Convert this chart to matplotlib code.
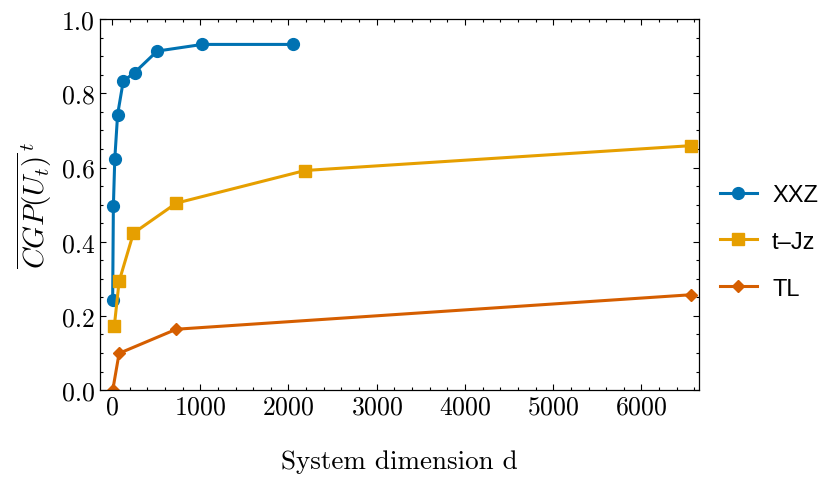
import numpy as np
import matplotlib
matplotlib.use("Agg")
import matplotlib.pyplot as plt

plt.rcParams["font.family"] = "serif"
plt.rcParams["font.serif"] = ["cmr10"]
plt.rcParams["mathtext.fontset"] = "cm"
plt.rcParams["axes.formatter.use_mathtext"] = True
plt.rcParams["font.size"] = 18.5

# data
d_xxz = [8, 16, 32, 64, 128, 256, 512, 1024, 2048]
cgp_xxz = [0.243, 0.495, 0.623, 0.743, 0.833, 0.856, 0.914, 0.932, 0.932]

d_tjz = [27, 81, 243, 729, 2187, 6561]
cgp_tjz = [0.173, 0.293, 0.423, 0.504, 0.592, 0.659]

d_tl = [9, 81, 729, 6561]
cgp_tl = [0.0, 0.099, 0.164, 0.257]

c_blue = "#0072B2"
c_orange = "#E69F00"
c_red = "#D55E00"

fig, ax = plt.subplots(figsize=(8.3, 4.81), dpi=100)
ax.plot(d_xxz, cgp_xxz, "-o", color=c_blue, lw=2.2, ms=8.5, label="XXZ")
ax.plot(d_tjz, cgp_tjz, "-s", color=c_orange, lw=2.2, ms=8.5, label="t\u2013Jz")
ax.plot(d_tl, cgp_tl, "-D", color=c_red, lw=2.2, ms=6, label="TL")

ax.set_xlim(-140, 6650)
ax.set_ylim(0, 1.0)
ax.set_xticks([0, 1000, 2000, 3000, 4000, 5000, 6000])
ax.set_yticks([0.0, 0.2, 0.4, 0.6, 0.8, 1.0])
ax.set_yticklabels(["0.0", "0.2", "0.4", "0.6", "0.8", "1.0"])
ax.xaxis.set_minor_locator(plt.MultipleLocator(200))
ax.yaxis.set_minor_locator(plt.MultipleLocator(0.05))
ax.tick_params(which="both", direction="in", top=True, right=True, width=0.8)
ax.tick_params(which="major", length=4.5)
ax.tick_params(which="minor", length=2.5)
for s in ax.spines.values():
    s.set_linewidth(0.9)

ax.set_xlabel("System dimension d", fontsize=19.5, labelpad=22)
ax.set_ylabel(r"$\overline{CGP(U_t)}^{\,t}$", fontsize=21, labelpad=6)

leg = ax.legend(loc="center left", bbox_to_anchor=(1.0, 0.40), frameon=False,
                prop={"family": "Liberation Sans", "size": 17},
                handlelength=1.55, labelspacing=1.05, handletextpad=0.65)

plt.subplots_adjust(left=0.12, right=0.842, top=0.958, bottom=0.187)
fig.savefig("out.png", dpi=100)
